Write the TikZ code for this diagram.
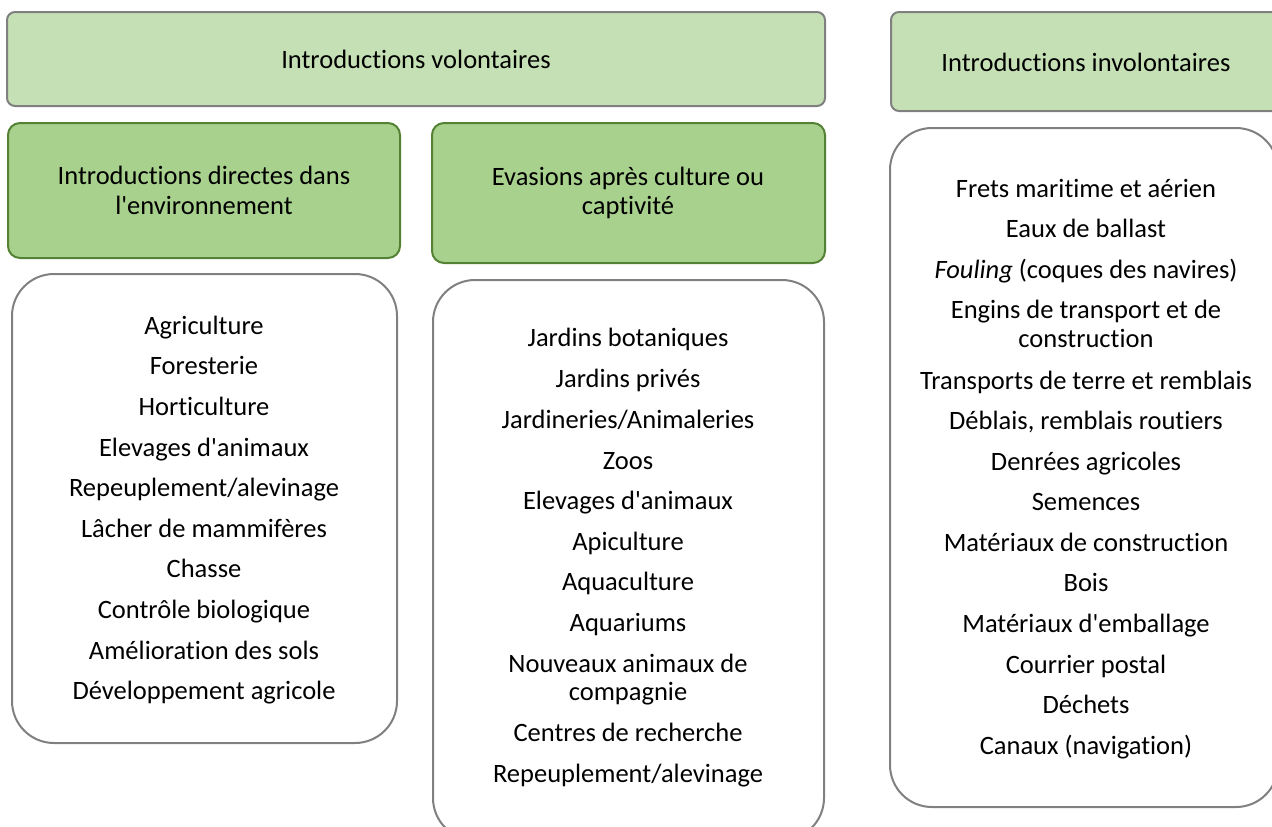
\documentclass[tikz,border=0pt]{standalone}
\usepackage{fontspec}
\setmainfont{Carlito}[Ligatures={NoCommon,NoRequired,NoContextual}]
\definecolor{lightgreen}{HTML}{C5E0B4}
\definecolor{midgreen}{HTML}{A9D18E}
\definecolor{darkgreen}{HTML}{548235}
\definecolor{boxgray}{HTML}{808080}
\newcommand{\ap}{\textquotesingle}
\begin{document}
\begin{tikzpicture}[x=1pt,y=-1pt,
  header/.style={draw=boxgray,fill=lightgreen,line width=2pt,rounded corners=8pt},
  subhead/.style={draw=darkgreen,fill=midgreen,line width=2pt,rounded corners=12pt},
  listbox/.style={draw=boxgray,fill=white,line width=2pt,rounded corners=42pt},
  lbl/.style={font=\fontsize{26.5}{29.5}\selectfont,align=center,inner sep=0pt},
  item/.style={font=\fontsize{26.5}{29.5}\selectfont,inner sep=0pt,anchor=mid}]
\useasboundingbox (0,0) rectangle (1272,827);
\clip (0,0) rectangle (1272,827);
% boxes
\draw[header] (7,12) rectangle (825,106);
\draw[header] (891,12) rectangle (1290,111);
\draw[subhead] (8,123) rectangle (400,258);
\draw[subhead] (432,123) rectangle (825,263);
\draw[listbox] (12,274) rectangle (397,743);
\draw[listbox] (433,280) rectangle (824,840);
\draw[listbox] (890,128) rectangle (1278,807);
% headings
\node[lbl] (hvol) at (416,59.5) {Introductions volontaires};
\node[lbl] (hinv) at (1086,62) {Introductions involontaires};
\node[lbl] (hdir) at (204,190.5) {Introductions directes dans\\l\ap environnement};
\node[lbl] (hev) at (628,193) {Evasions après culture ou\\captivité};
% left list
\foreach \t [count=\i] in {Agriculture,Foresterie,Horticulture,Elevages d\ap animaux,Repeuplement/alevinage,Lâcher de mammifères,Chasse,Contrôle biologique,Amélioration des sols,Développement agricole}
  \node[item] (l\i) at (204,{332+(\i-1)*40.6}) {\t};
% middle list
\foreach \t/\y [count=\i] in {Jardins botaniques/337,Jardins privés/378,{Jardineries/Animaleries}/419,Zoos/460,Elevages d\ap animaux/500,Apiculture/541,Aquaculture/581,Aquariums/622,Nouveaux animaux de/663,compagnie/691,Centres de recherche/732,{Repeuplement/alevinage}/773}
  \node[item] (m\i) at (628,\y+7) {\t};
% right list
\foreach \t/\y [count=\i] in {Frets maritime et aérien/188,Eaux de ballast/228,{\textit{Fouling} (coques des navires)}/269,Engins de transport et de/309,construction/338,Transports de terre et remblais/380,{Déblais, remblais routiers}/420,Denrées agricoles/461,Semences/501,Matériaux de construction/542,Bois/582,Matériaux d\ap emballage/623,Courrier postal/664,Déchets/704,Canaux (navigation)/745}
  \node[item] (r\i) at (1086,\y+7) {\t};
\end{tikzpicture}
\end{document}
